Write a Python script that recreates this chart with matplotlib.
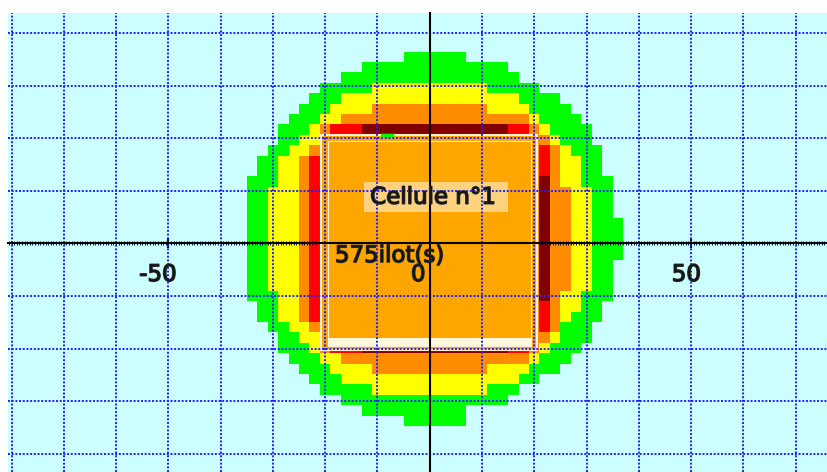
import numpy as np
import matplotlib.pyplot as plt
import matplotlib.patheffects as pe
from matplotlib.colors import ListedColormap
from matplotlib.patches import Rectangle
from matplotlib.ticker import MultipleLocator

nan = np.nan

# outer limit (x, m) of each flux zone, one value per 2 m row, top row first
green_left = [-5, -13, -17, -21, -23, -25, -27, -29, -29, -31, -33, -33,
              -35, -35, -35, -35, -35, -35, -35, -35, -35, -35, -35, -35,
              -33, -33, -31, -29, -29, -27, -25, -23, -21, -17, -13, -5]
green_right = [7, 15, 17, 21, 25, 27, 29, 31, 31, 33, 33, 33,
               35, 35, 35, 35, 37, 37, 37, 37, 35, 35, 35, 35,
               33, 33, 31, 31, 29, 27, 25, 21, 17, 15, 7, 7]
yellow_left = [nan, nan, nan, -11, -17, -19, -21, -23, -25, -27, -29, -29,
               -29, -31, -31, -31, -31, -31, -31, -31, -31, -31, -31, -29,
               -29, -29, -27, -25, -23, -21, -19, -17, -11, nan, nan, nan]
yellow_right = [nan, nan, nan, 11, 17, 19, 21, 23, 25, 27, 29, 29,
                29, 31, 31, 31, 31, 31, 31, 31, 31, 31, 31, 29,
                29, 27, 25, 25, 23, 21, 19, 17, 11, nan, nan, nan]
orange_left = [nan, nan, nan, nan, nan, -11, -17, -21, -21, -23, -25, -25,
               -25, -25, -25, -25, -25, -25, -25, -25, -25, -25, -25, -25,
               -25, -25, -23, -21, -21, -17, -11, nan, nan, nan, nan, nan]
orange_right = [nan, nan, nan, nan, nan, 11, 19, 21, 23, 25, 25, 25,
                25, 27, 27, 27, 27, 27, 27, 27, 27, 27, 27, 25,
                25, 25, 25, 23, 21, 19, 11, nan, nan, nan, nan, nan]

# wall cells: (first row, last row, code) for the side walls,
# (x from, x to, code) for the top and bottom walls
left_wall = [(10, 25, 4)]
right_wall = [(9, 11, 4), (12, 23, 5), (24, 26, 4)]
top_bottom_wall = [(-19, -13, 4), (-13, 15, 5), (15, 19, 4)]

zone_colors = ["#00ff00", "#ffff00", "#ff8c00", "#ff0000", "#800000"]

x_edges = np.arange(-37, 40, 2)
y_edges = np.linspace(36.5, -34.7, 37)
xc = (x_edges[:-1] + x_edges[1:]) / 2

grid = np.zeros((36, len(xc)))
for r in range(36):
    for lo, hi, code in ((green_left[r], green_right[r], 1),
                         (yellow_left[r], yellow_right[r], 2),
                         (orange_left[r], orange_right[r], 3)):
        if not np.isnan(lo):
            grid[r, (xc > lo) & (xc < hi)] = code
col_l = np.argmin(abs(xc + 22))
col_r = np.argmin(abs(xc - 22))
for r0, r1, code in left_wall:
    grid[r0:r1 + 1, col_l] = code
for r0, r1, code in right_wall:
    grid[r0:r1 + 1, col_r] = code
for row in (7, 28):
    for lo, hi, code in top_bottom_wall:
        grid[row, (xc > lo) & (xc < hi)] = code

fig = plt.figure(figsize=(8.28, 4.72), dpi=100)
ax = fig.add_axes([8 / 828, 0, 820 / 828, 459 / 472])
ax.set_facecolor("#ccffff")
ax.set_xlim(-80.68, 76.2)
ax.set_ylim(-43.44, 43.82)

ax.pcolormesh(x_edges, y_edges, np.ma.masked_equal(grid, 0),
              cmap=ListedColormap(zone_colors), vmin=0.5, vmax=5.5,
              antialiased=False, zorder=1)

# cellule
ax.add_patch(Rectangle((-20.8, -20.25), 41.4, 40.95, fc="#ffa500",
                       ec="#ffefd5", lw=1.5, zorder=2))
ax.add_patch(Rectangle((-19.45, -19.43), 38.75, 38.93, fill=False,
                       ec="#ffefd5", lw=0.8, zorder=2))
ax.add_patch(Rectangle((-19.45, -19.43), 38.75, 1.46, fc="#fff8dc",
                       ec="none", zorder=2))
ax.plot([-9.2, -7.3], [20.6, 20.6], color="#00ff00", lw=2.5, zorder=2.2)
ax.add_patch(Rectangle((-12.57, 5.99), 27.55, 5.7, fc="white", alpha=0.5,
                       ec="none", zorder=2.5))

# dotted blue grid
for gx in range(-80, 80, 10):
    ax.axvline(gx, color="#2020ff", lw=1.4, ls=(0, (1, 0.9)), zorder=3)
for gy in range(-40, 50, 10):
    ax.axhline(gy, color="#2020ff", lw=1.4, ls=(0, (1, 0.9)), zorder=3)

# axes through origin
for s in ("top", "right"):
    ax.spines[s].set_visible(False)
ax.spines["bottom"].set_position(("data", 0))
ax.spines["left"].set_position(("data", 0))
ax.spines["bottom"].set_linewidth(1.5)
ax.spines["left"].set_linewidth(1.5)
ax.spines["bottom"].set_zorder(4)
ax.spines["left"].set_zorder(4)
ax.set_xticks([-50, 0, 50])
ax.set_xticklabels([])
ax.xaxis.set_minor_locator(MultipleLocator(0.5))
ax.tick_params(axis="x", which="major", direction="inout", length=7, width=1.5)
ax.tick_params(axis="x", which="minor", direction="inout", length=3.5,
               width=0.7, color="#101050")
ax.set_yticks([])

font = dict(family="DejaVu Sans", fontsize=16.5, color="#151515", zorder=5,
            path_effects=[pe.withStroke(linewidth=1.1, foreground="#303030")])
for lx, lt in ((-52.0, "-50"), (-2.2, "0"), (49.1, "50")):
    ax.text(lx, -5.9, lt, ha="center", va="center", **font)
ax.text(0.6, 8.8, "Cellule n°1", ha="center", va="center", **font)
ax.text(-7.7, -2.3, "575ilot(s)", ha="center", va="center", **font)

fig.savefig("out.png", dpi=100, facecolor="white")
